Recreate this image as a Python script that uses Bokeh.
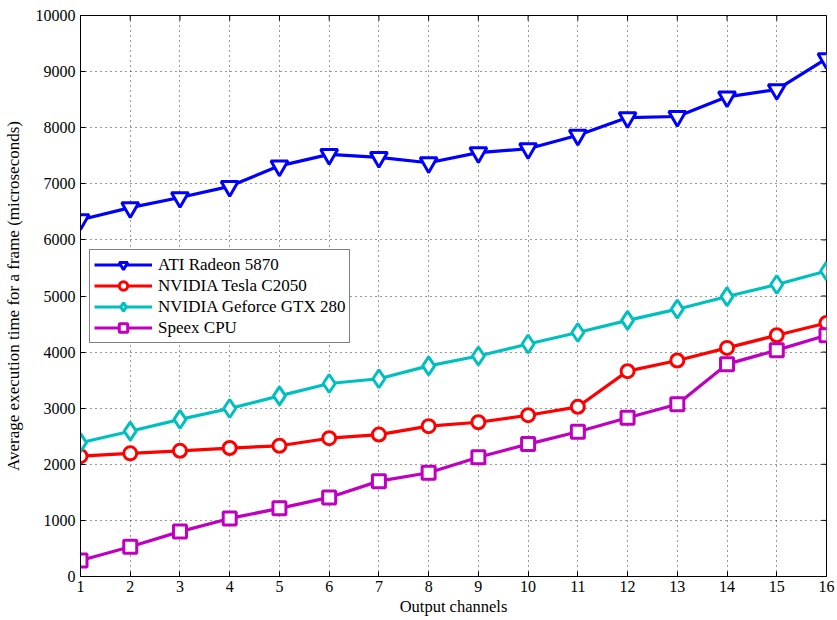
import math
from bokeh.plotting import figure
from bokeh.models import FixedTicker, Range1d, Legend, LegendItem
from bokeh.embed import file_html
from bokeh.resources import INLINE

# Number of output channels
channels = list(range(1, 17))

# Average execution time per frame (microseconds)
ati_radeon_5870 = [6360, 6575, 6755, 6955, 7320, 7525, 7470, 7375,
                   7555, 7625, 7865, 8180, 8200, 8550, 8680, 9230]
nvidia_tesla_c2050 = [2145, 2195, 2240, 2290, 2330, 2465, 2530, 2680,
                      2750, 2875, 3025, 3660, 3850, 4075, 4300, 4520]
nvidia_gtx_280 = [2385, 2590, 2800, 2995, 3220, 3440, 3525, 3755,
                  3930, 4145, 4350, 4565, 4765, 4990, 5205, 5445]
speex_cpu = [285, 530, 800, 1035, 1215, 1410, 1700, 1850,
             2125, 2360, 2580, 2830, 3070, 3785, 4035, 4300]

series_names = ["ATI Radeon 5870", "NVIDIA Tesla C2050",
                "NVIDIA Geforce GTX 280", "Speex CPU"]

x_ticks = list(range(1, 17))
y_ticks = list(range(0, 10001, 1000))

FONT = "Liberation Serif"
TICK_FS = "16px"
LABEL_FS = "17px"

p = figure(width=837, height=620, output_backend="svg", toolbar_location=None,
           x_range=Range1d(1, 16), y_range=Range1d(0, 10000),
           min_border_left=80, min_border_right=11, min_border_top=15,
           min_border_bottom=44)
p.background_fill_color = "white"
p.border_fill_color = "white"
p.outline_line_color = "black"
p.outline_line_width = 1

# Axes with inward ticks
for ax, ticks in ((p.xaxis[0], x_ticks), (p.yaxis[0], y_ticks)):
    ax.ticker = FixedTicker(ticks=ticks)
    ax.major_tick_in = 5
    ax.major_tick_out = 0
    ax.minor_tick_line_color = None
    ax.axis_line_color = "black"
    ax.major_tick_line_color = "black"
    ax.major_label_text_font = FONT
    ax.major_label_text_font_size = TICK_FS
    ax.major_label_text_color = "black"
    ax.axis_label_text_font = FONT
    ax.axis_label_text_font_size = LABEL_FS
    ax.axis_label_text_font_style = "normal"
    ax.axis_label_text_color = "black"

p.xaxis.axis_label = "Output channels"
p.yaxis.axis_label = "Average execution time for a frame (microseconds)"
p.xaxis.axis_label_text_font_size = "16.5px"
p.xaxis.major_label_standoff = 4
p.yaxis.major_label_standoff = 5
p.xaxis.axis_label_standoff = 2
p.yaxis.axis_label_standoff = 10

# Dotted grid
for g in (p.xgrid[0], p.ygrid[0]):
    g.grid_line_color = "black"
    g.grid_line_dash = "1 4"
    g.grid_line_width = 1
    g.grid_line_alpha = 0.8
p.xgrid.ticker = FixedTicker(ticks=x_ticks)
p.ygrid.ticker = FixedTicker(ticks=y_ticks)

# Tick marks along the top and right edges of the box
p.ray(x=[x_ticks[-1]] * len(y_ticks), y=y_ticks, length=5,
      length_units="screen", angle=math.pi, line_color="black", line_width=1)
p.ray(x=x_ticks, y=[y_ticks[-1]] * len(x_ticks), length=5,
      length_units="screen", angle=-math.pi / 2, line_color="black",
      line_width=1)

styles = [
    (ati_radeon_5870, "#0000ff", "inverted_triangle", 17),
    (nvidia_tesla_c2050, "#ff0000", "circle", 13),
    (nvidia_gtx_280, "#00bfbf", "diamond", 18),
    (speex_cpu, "#bf00bf", "square", 13),
]

items = []
for name, (vals, color, marker, size) in zip(series_names, styles):
    ln = p.line(channels, vals, line_color=color, line_width=3.2)
    sc = p.scatter(channels, vals, marker=marker, size=size,
                   line_color=color, line_width=3, fill_color="white")
    items.append(LegendItem(label=name, renderers=[ln, sc]))

legend = Legend(items=items, location=(9, 233))
legend.label_text_font = FONT
legend.label_text_font_size = LABEL_FS
legend.label_text_color = "black"
legend.glyph_width = 58
legend.glyph_height = 21
legend.label_height = 21
legend.label_standoff = 6
legend.spacing = 0
legend.padding = 4
legend.margin = 0
legend.border_line_color = "black"
legend.border_line_width = 1
legend.background_fill_alpha = 1
p.add_layout(legend, "center")

open("out.html", "w").write(file_html(p, INLINE))
